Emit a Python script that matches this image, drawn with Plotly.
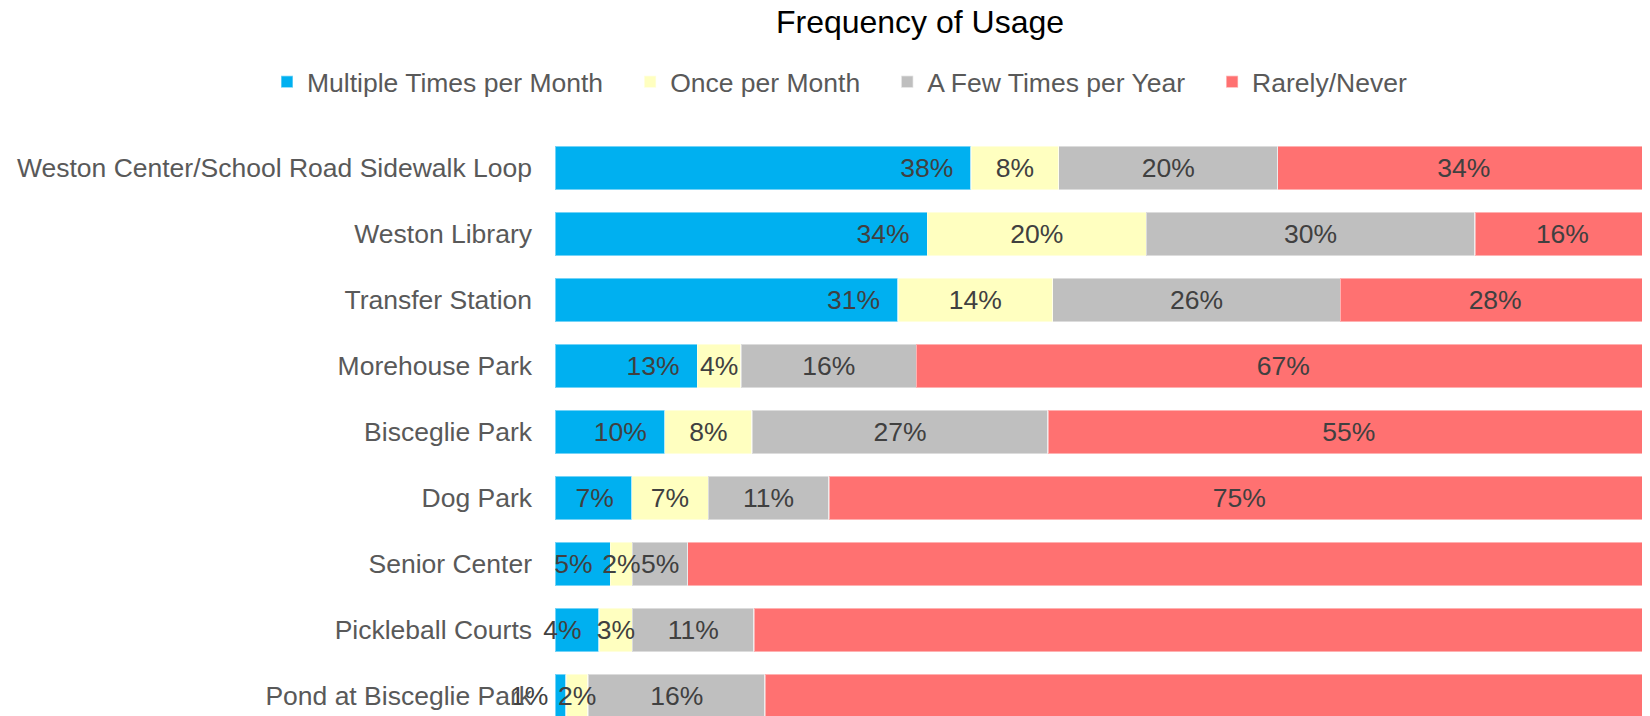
import plotly.graph_objects as go

# categories, top to bottom
places = [
    "Weston Center/School Road Sidewalk Loop",
    "Weston Library",
    "Transfer Station",
    "Morehouse Park",
    "Bisceglie Park",
    "Dog Park",
    "Senior Center",
    "Pickleball Courts",
    "Pond at Bisceglie Park",
]

# share of answers per place (%)
multiple_per_month = [38, 34, 31, 13, 10, 7, 5, 4, 1]
once_per_month = [8, 20, 14, 4, 8, 7, 2, 3, 2]
few_per_year = [20, 30, 26, 16, 27, 11, 5, 11, 16]
rarely_never = [34, 16, 28, 67, 55, 75, 87, 81, 80]

series_names = ["Multiple Times per Month", "Once per Month", "A Few Times per Year", "Rarely/Never"]
series_values = [multiple_per_month, once_per_month, few_per_year, rarely_never]
series_colors = ["#00B0F0", "#FFFFC0", "#BFBFBF", "#FF7171"]

FONT = "Arial, Liberation Sans, sans-serif"
NBSP = "\u00a0"

# the page body has an 8px margin, so the figure is made smaller
W, H = 1642, 708

fig = go.Figure()

# coloured bars
for i, (name, vals, color) in enumerate(zip(series_names, series_values, series_colors)):
    # pad legend names so the entries spread out like the original
    legend_name = name if i == len(series_names) - 1 else name + NBSP * 3
    fig.add_trace(go.Bar(
        y=places,
        x=vals,
        name=legend_name,
        orientation="h",
        marker=dict(color=color, line=dict(color="rgba(255,255,255,0.45)", width=1.5)),
        hoverinfo="skip",
    ))

# same stacks again on an overlaid axis, transparent, only to carry the labels
# so that no label gets covered by the next segment
for i, (name, vals) in enumerate(zip(series_names, series_values)):
    if i == 0:
        labels = [f"{v}%{NBSP * 2}" for v in vals]
        anchor = "end"
    else:
        labels = [f"{v}%" for v in vals]
        anchor = "middle"
    fig.add_trace(go.Bar(
        y=places,
        x=vals,
        name=name,
        orientation="h",
        xaxis="x2",
        marker=dict(color="rgba(0,0,0,0)", line=dict(width=0)),
        text=labels,
        textposition="inside",
        insidetextanchor=anchor,
        textangle=0,
        constraintext="none",
        textfont=dict(family=FONT, size=26.5, color="#404040"),
        cliponaxis=False,
        showlegend=False,
        hovertemplate="%{y}<br>" + name + ": %{text}<extra></extra>",
    ))

plot_w = W - 547
fig.update_layout(
    width=W,
    height=H,
    barmode="stack",
    barnorm="percent",
    bargap=0.333,
    paper_bgcolor="white",
    plot_bgcolor="white",
    margin=dict(l=547, r=0, t=127, b=0, autoexpand=False),
    font=dict(family=FONT, size=26, color="#595959"),
    title=dict(
        text="Frequency of Usage",
        font=dict(family=FONT, size=32, color="#000000"),
        xref="container", x=912 / W, xanchor="center",
        yref="container", y=1 - 14 / H, yanchor="middle",
    ),
    legend=dict(
        orientation="h",
        xref="paper", x=(259 - 547) / plot_w, xanchor="left",
        yref="paper", y=1 + (127 - 74) / 581, yanchor="middle",
        font=dict(family=FONT, size=26.5, color="#595959"),
        traceorder="normal",
        itemwidth=30,
    ),
    showlegend=True,
    xaxis=dict(
        range=[0, 100], visible=False,
        showgrid=False, zeroline=False, showticklabels=False, showline=False,
    ),
    xaxis2=dict(
        overlaying="x", range=[0, 100], visible=False,
        showgrid=False, zeroline=False, showticklabels=False,
    ),
    yaxis=dict(
        range=[8.5 - 13 / 66, -0.5],
        showgrid=False, zeroline=False, showline=False, ticks="",
        ticklabelstandoff=22,
        tickfont=dict(family=FONT, size=26.5, color="#595959"),
        automargin=False,
    ),
)

fig.write_html("out.html")
